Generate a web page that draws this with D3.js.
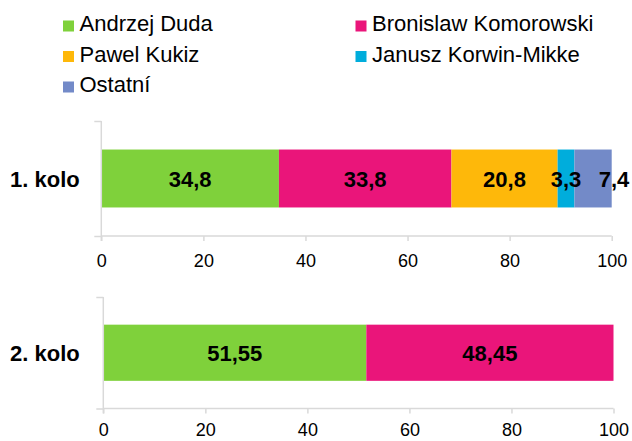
<!DOCTYPE html>
<html>
<head>
<meta charset="utf-8">
<script src="https://cdn.jsdelivr.net/npm/d3@7"></script>
<style>
  body { margin: 0; background: #fff; }
  svg { display: block; font-family: Arial, "Liberation Sans", sans-serif; }
</style>
</head>
<body>
<div id="chart"></div>
<script>
// data
const candidates = ["Andrzej Duda", "Bronislaw Komorowski", "Pawel Kukiz", "Janusz Korwin-Mikke", "Ostatní"];
const colors = ["#7FD13B", "#EA157A", "#FEB80A", "#00ADDC", "#738AC8"];
const round1Values = [34.8, 33.8, 20.8, 3.3, 7.4];
const round2Values = [51.55, 48.45];
const roundLabels = ["1. kolo", "2. kolo"];
const round1Text = ["34,8", "33,8", "20,8", "3,3", "7,4"];
const round2Text = ["51,55", "48,45"];
const xTicks = [0, 20, 40, 60, 80, 100];

const width = 632, height = 441;

const svg = d3.select("#chart")
    .append("svg")
    .attr("width", width)
    .attr("height", height);

// legend, two columns
const legendCols = [63, 355.5];
const legendRows = [31, 61.5, 92];
const legend = svg.append("g");
candidates.forEach((name, i) => {
    const lx = legendCols[i % 2];
    const ly = legendRows[Math.floor(i / 2)];
    legend.append("rect")
        .attr("x", lx).attr("y", ly - 10.5)
        .attr("width", 11).attr("height", 11)
        .attr("fill", colors[i]);
    legend.append("text")
        .attr("x", lx + 16.5).attr("y", ly)
        .attr("font-size", "22px")
        .attr("fill", "#000")
        .text(name);
});

// little nudge for the last label of round 1, like the original
const labelShift = { "1. kolo": { 4: 21 } };

function drawRound(label, values, texts, box) {
    const x = d3.scaleLinear().domain([0, 100]).range([box.x0, box.x1]);
    const y = d3.scaleBand().domain([label]).range([box.top, box.bottom]).padding(0.33);

    const g = svg.append("g");

    // stacked segments
    let acc = 0;
    const segs = values.map((v, i) => {
        const s = { start: acc, end: acc + v, i: i, text: texts[i] };
        acc += v;
        return s;
    });

    g.selectAll("rect.seg")
        .data(segs)
        .enter()
        .append("rect")
        .attr("class", "seg")
        .attr("x", d => x(d.start))
        .attr("y", y(label))
        .attr("width", d => Math.min(x(d.end), x(100)) - x(d.start))
        .attr("height", y.bandwidth())
        .attr("fill", d => colors[d.i]);

    // x axis
    const xAxis = g.append("g")
        .attr("transform", `translate(0,${box.bottom})`)
        .call(d3.axisBottom(x).tickValues(xTicks).tickSize(5).tickPadding(box.pad));
    xAxis.select(".domain").attr("stroke", "#d9d9d9").attr("stroke-width", 1.5)
        .attr("d", `M${x(0)},0H${x(100)}`);
    xAxis.selectAll(".tick line").attr("stroke", "#d9d9d9").attr("stroke-width", 1.5);
    xAxis.selectAll(".tick text")
        .attr("font-size", "18px")
        .attr("font-family", "Arial, 'Liberation Sans', sans-serif")
        .attr("fill", "#000");

    // y axis: vertical line with ticks at the edges
    const yEdge = d3.scaleLinear().domain([0, 1]).range([box.bottom, box.top]);
    const yAxis = g.append("g")
        .attr("transform", `translate(${x(0)},0)`)
        .call(d3.axisLeft(yEdge).tickValues([0, 1]).tickSize(7).tickFormat(""));
    yAxis.select(".domain").attr("stroke", "#d9d9d9").attr("stroke-width", 1.5)
        .attr("d", `M0,${box.top}V${box.bottom + 5}`);
    yAxis.selectAll(".tick line").attr("stroke", "#d9d9d9").attr("stroke-width", 1.5);

    // category label
    g.append("text")
        .attr("x", 10)
        .attr("y", y(label) + y.bandwidth() / 2 + 8)
        .attr("font-size", "22px")
        .attr("font-weight", "bold")
        .attr("fill", "#000")
        .text(label);

    // value labels
    const shift = labelShift[label] || {};
    g.selectAll("text.val")
        .data(segs)
        .enter()
        .append("text")
        .attr("class", "val")
        .attr("x", d => (x(d.start) + Math.min(x(d.end), x(100))) / 2 + (shift[d.i] || 0))
        .attr("y", y(label) + y.bandwidth() / 2 + 8)
        .attr("text-anchor", "middle")
        .attr("font-size", "22px")
        .attr("font-weight", "bold")
        .attr("fill", "#000")
        .text(d => d.text);
}

drawRound(roundLabels[0], round1Values, round1Text, { x0: 101.3, x1: 611.7, top: 121, bottom: 236, pad: 13 });
drawRound(roundLabels[1], round2Values, round2Text, { x0: 103.3, x1: 613.5, top: 297, bottom: 408.5, pad: 10 });
</script>
</body>
</html>
